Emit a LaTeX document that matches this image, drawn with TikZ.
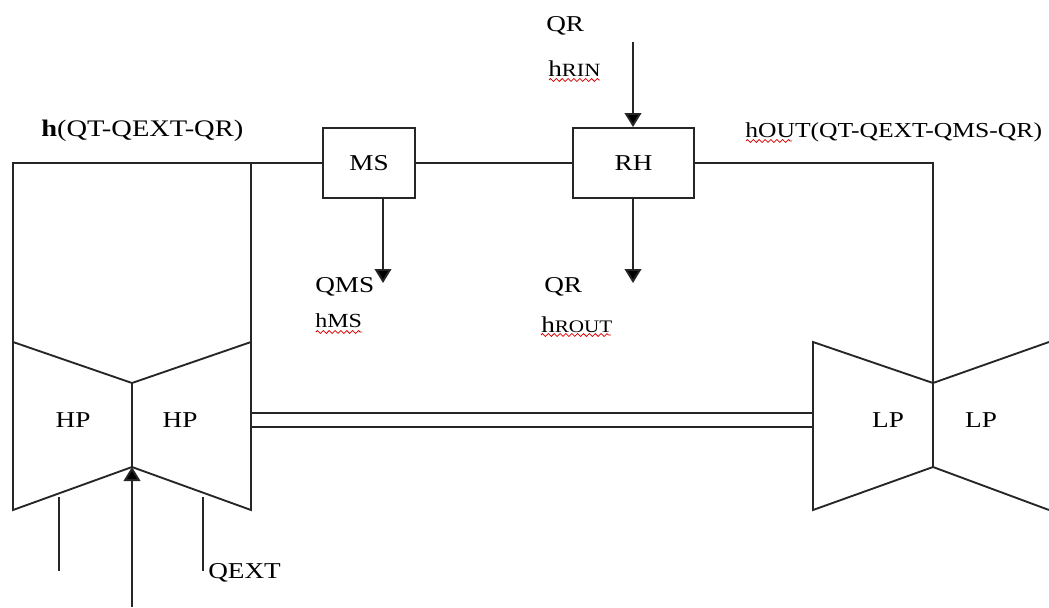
\documentclass[tikz,border=0pt]{standalone}
\usepackage{fontspec}
\setmainfont[FakeStretch=1.2]{Liberation Serif}
\usetikzlibrary{arrows.meta,decorations.pathmorphing}
\tikzset{
  line/.style={draw=black!85,line width=1.4pt},
  flow/.style={line,-{Triangle[length=10.5pt,width=12.5pt,fill=black]}},
  unit/.style={draw=black!85,line width=1.4pt,minimum width=69pt,minimum height=53pt,inner sep=0pt,font=\fontsize{17}{20}\selectfont},
  lbl/.style={anchor=west,inner sep=0pt,font=\fontsize{17}{20}\selectfont},
  tag/.style={inner sep=0pt,font=\fontsize{17}{20}\selectfont},
  wavy/.style={draw=red!85!black,line width=0.55pt,decorate,decoration={zigzag,amplitude=1.1pt,segment length=4.4pt}}
}
\begin{document}
\begin{tikzpicture}[x=0.75pt,y=-0.75pt]
\useasboundingbox (0,0) rectangle (1049,607);
\node[unit] (MS) at (369,163) {MS};
\node[unit,minimum width=91pt] (RH) at (633.5,163) {RH};
% HP casing
\coordinate (tl) at (13,163); \coordinate (tr) at (251,163);
\coordinate (hpl) at (13,342); \coordinate (hpr) at (251,342); \coordinate (hpc) at (132,383);
\coordinate (hbl) at (13,510); \coordinate (hbr) at (251,510); \coordinate (hbc) at (132,467);
\draw[line] (hpl) -- (tl) -- (MS.west);
\draw[line] (tr) -- (hpr);
\draw[line,line join=miter] (hpl) -- (hpc) -- (hpr) -- (hbr) -- (hbc) -- (hbl) -- cycle;
\draw[line] (hpc) -- (hbc);
% LP casing
\coordinate (lpl) at (813,342); \coordinate (lpc) at (933,383); \coordinate (lpr) at (1049,342);
\coordinate (lbl) at (813,510); \coordinate (lbc) at (933,467); \coordinate (lbr) at (1049,510);
\coordinate (lt) at (933,163);
\draw[line] (lpr) -- (lpc) -- (lpl) -- (lbl) -- (lbc) -- (lbr);
\draw[line] (MS.east) -- (RH.west);
\draw[line] (RH.east) -- (lt) -- (lbc);
% shaft
\coordinate (s1a) at (251,413); \coordinate (s1b) at (813,413);
\coordinate (s2a) at (251,427); \coordinate (s2b) at (813,427);
\draw[line] (s1a) -- (s1b);
\draw[line] (s2a) -- (s2b);
% flows
\coordinate (rin) at (633,42); \coordinate (msout) at (383,283); \coordinate (rout) at (633,283);
\coordinate (msb) at (383,198); \coordinate (rhb) at (633,198); \coordinate (rht) at (633,127);
\coordinate (hin) at (132,607);
\draw[flow] (rin) -- (rht);
\draw[flow] (msb) -- (msout);
\draw[flow] (rhb) -- (rout);
\draw[flow] (hin) -- (hbc);
% stubs
\coordinate (e1a) at (59,497); \coordinate (e1b) at (59,571);
\coordinate (e2a) at (203,497); \coordinate (e2b) at (203,571);
\draw[line,line width=1.2pt] (e1a) -- (e1b);
\draw[line,line width=1.2pt] (e2a) -- (e2b);
% labels
\node[tag] (hp1) at (73,420) {HP};
\node[tag] (hp2) at (180,420) {HP};
\node[tag] (lp1) at (888,420) {LP};
\node[tag] (lp2) at (981,420) {LP};
\node[lbl,font=\fontsize{17.8}{20}\selectfont] (t1) at (41,131) {\textbf{h}(QT-QEXT-QR)};
\node[lbl,font=\fontsize{16}{20}\selectfont] (t2) at (745,132) {hOUT(QT-QEXT-QMS-QR)};
\node[lbl] (t3) at (546,26) {QR};
\node[lbl] (t4) at (548,69) {h{\fontsize{14}{16}\selectfont RIN}};
\node[lbl] (t5) at (315,287) {QMS};
\node[lbl,font=\fontsize{15}{18}\selectfont] (t6) at (315,321) {hMS};
\node[lbl] (t7) at (544,287) {QR};
\node[lbl] (t8) at (541,325) {h{\fontsize{13.2}{16}\selectfont ROUT}};
\node[lbl] (t9) at (208,573) {QEXT};
% spell-check marks
\coordinate (w4a) at (549,80); \coordinate (w4b) at (600,80);
\coordinate (w2a) at (746,141); \coordinate (w2b) at (792,141);
\coordinate (w6a) at (316,332); \coordinate (w6b) at (362,332);
\coordinate (w8a) at (541,335); \coordinate (w8b) at (611,335);
\draw[wavy] (w4a) -- (w4b);
\draw[wavy] (w2a) -- (w2b);
\draw[wavy] (w6a) -- (w6b);
\draw[wavy] (w8a) -- (w8b);
\end{tikzpicture}
\end{document}
